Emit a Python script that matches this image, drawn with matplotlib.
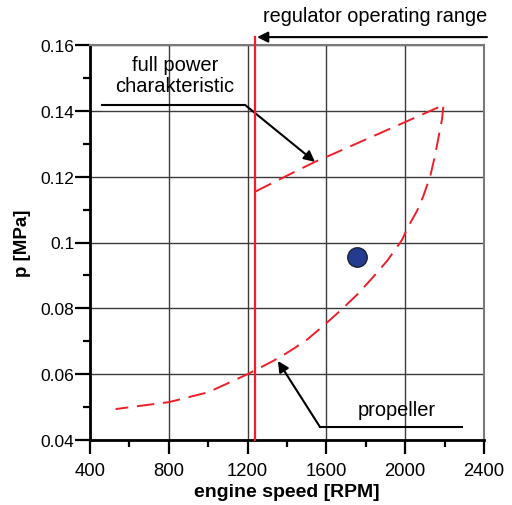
import matplotlib
matplotlib.use("Agg")
import matplotlib.pyplot as plt
from matplotlib.ticker import MultipleLocator, FuncFormatter

plt.rcParams['font.family'] = ['Liberation Sans', 'DejaVu Sans']

# Full power characteristic (from the regulator limit up to the corner point)
full_power_rpm = [1240, 1400, 1542, 1600, 1800, 2000, 2177, 2195]
full_power_p = [0.1155, 0.1203, 0.1245, 0.1260, 0.1313, 0.1366, 0.1413, 0.1420]

# Propeller characteristic (from the corner point down to low speed)
propeller_rpm = [2197, 2187, 2151, 2126, 2090, 2060, 2014, 1984, 1908, 1837,
                 1760, 1669, 1583, 1502, 1440, 1390, 1329, 1200, 1000, 800, 530]
propeller_p = [0.1421, 0.1375, 0.1263, 0.1199, 0.1138, 0.1096, 0.1047, 0.1008,
               0.0944, 0.0895, 0.0844, 0.0792, 0.0746, 0.0705, 0.0680, 0.0661,
               0.0640, 0.0600, 0.0545, 0.0515, 0.0494]

regulator_rpm = 1240
operating_point_rpm = [1755]
operating_point_p = [0.0956]

x_ticks = [400, 800, 1200, 1600, 2000, 2400]
y_ticks = [0.04, 0.06, 0.08, 0.10, 0.12, 0.14, 0.16]

fig = plt.figure(figsize=(5.12, 5.06), dpi=100)
ax = fig.add_axes([90 / 512, 65 / 506, 394 / 512, 395 / 506])

ax.set_xlim(400, 2400)
ax.set_ylim(0.04, 0.16)
ax.set_xticks(x_ticks)
ax.set_yticks(y_ticks)
ax.xaxis.set_minor_locator(MultipleLocator(200))
ax.yaxis.set_minor_locator(MultipleLocator(0.01))
ax.yaxis.set_major_formatter(FuncFormatter(lambda v, _: f"{v:g}"))
ax.tick_params(axis='x', which='major', direction='out', length=10, width=1.6,
               labelsize=13.3, pad=5.5, colors='black')
ax.tick_params(axis='y', which='major', direction='out', length=11, width=1.6,
               labelsize=12.5, pad=0.3, colors='black')
ax.tick_params(which='minor', direction='out', length=5, width=1.6)
ax.grid(True, which='major', color='#3c3c3c', linewidth=1.0)
ax.set_axisbelow(True)

for side in ('left', 'bottom'):
    ax.spines[side].set_linewidth(2.0)
    ax.spines[side].set_color('black')
for side in ('top', 'right'):
    ax.spines[side].set_linewidth(1.5)
    ax.spines[side].set_color('#7a7a7a')

ax.set_xlabel('engine speed [RPM]', fontsize=14, fontweight='bold', labelpad=3)
ax.set_ylabel('p [MPa]', fontsize=13.5, fontweight='bold', labelpad=7)

red = '#f01e28'
dash = (0, (9, 4.5))
ax.plot(full_power_rpm + propeller_rpm[1:], full_power_p + propeller_p[1:],
        color=red, linewidth=1.4, linestyle=dash, zorder=3)

# Regulator limit line, extending above the plot
ax.plot([regulator_rpm, regulator_rpm], [0.04, 0.1624], color=red,
        linewidth=1.6, clip_on=False, zorder=4)

ax.plot(operating_point_rpm, operating_point_p, 'o', markersize=14,
        markerfacecolor='#243c8f', markeredgecolor='#1a1f3c',
        markeredgewidth=1.0, zorder=5)

arrow = dict(arrowstyle='-|>', color='black', lw=1.5, mutation_scale=16,
             shrinkA=0, shrinkB=0)

# Regulator operating range
ax.annotate('', xy=(1248, 0.1624), xytext=(2415, 0.1624),
            arrowprops=arrow, annotation_clip=False)
ax.text(1847, 0.1690, 'regulator operating range', ha='center', va='center',
        fontsize=14.3, clip_on=False)

# Full power characteristic label
ax.plot([461, 1187], [0.1418, 0.1418], color='black', lw=1.5, zorder=4)
ax.annotate('', xy=(1542, 0.1245), xytext=(1187, 0.1418), arrowprops=arrow)
ax.text(831, 0.1509, 'full power\ncharakteristic', ha='center', va='center',
        fontsize=14.5, linespacing=1.12)

# Propeller label
ax.plot([2289, 1568], [0.0439, 0.0439], color='black', lw=1.5, zorder=4)
ax.annotate('', xy=(1354, 0.0640), xytext=(1568, 0.0439), arrowprops=arrow)
ax.text(1958, 0.0494, 'propeller', ha='center', va='center', fontsize=14.4)

fig.savefig('out.png', dpi=100)
